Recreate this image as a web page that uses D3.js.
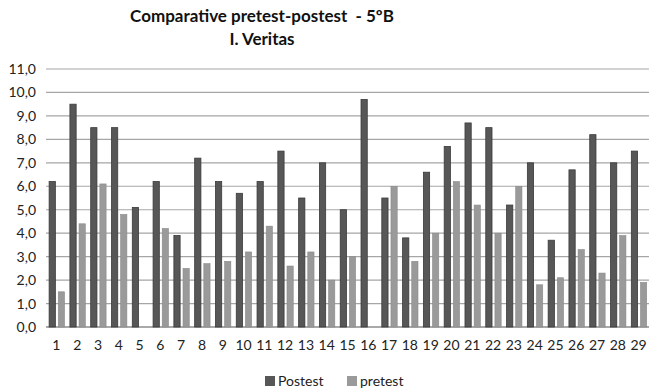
<!DOCTYPE html>
<html><head><meta charset="utf-8">
<script src="https://cdn.jsdelivr.net/npm/d3@7"></script>
<style>body{margin:0;background:#fff;} text{font-family:Lato, "Open Sans", sans-serif;}</style>
</head><body><svg id="c" width="658" height="389"></svg>
<script>
const categories = d3.range(1,30).map(String);
const postest = [6.2,9.5,8.5,8.5,5.1,6.2,3.9,7.2,6.2,5.7,6.2,7.5,5.5,7.0,5.0,9.7,5.5,3.8,6.6,7.7,8.7,8.5,5.2,7.0,3.7,6.7,8.2,7.0,7.5];
const pretest = [1.5,4.4,6.1,4.8,0,4.2,2.5,2.7,2.8,3.2,4.3,2.6,3.2,2.0,3.0,0,6.0,2.8,4.0,6.2,5.2,4.0,6.0,1.8,2.1,3.3,2.3,3.9,1.9];
const yTicks = d3.range(0,12);
const seriesNames = ["Postest","pretest"];

const svg = d3.select("#c");
const L=46, R=649, T=69, B=327;
const x = d3.scaleBand().domain(categories).range([L,R]).paddingInner(0).paddingOuter(0);
const y = d3.scaleLinear().domain([0,11]).range([B,T]);
const fmt = v => v.toFixed(1).replace(".",",");

svg.append("g").selectAll("line").data(yTicks).join("line")
  .attr("x1",L).attr("x2",R).attr("y1",d=>y(d)).attr("y2",d=>y(d))
  .attr("stroke",d=>d===0?"#8c8c8c":"#a6a6a6").attr("stroke-width",d=>d===0?1.5:1.2);

const ya = svg.append("g").attr("transform",`translate(${L-10},0)`)
  .call(d3.axisLeft(y).tickValues(yTicks).tickFormat(fmt).tickSize(0).tickPadding(0));
ya.select(".domain").remove();
ya.selectAll("text").attr("font-size",14).attr("fill","#222").attr("font-family","Lato, sans-serif");

const xa = svg.append("g").attr("transform",`translate(0,${B+10})`)
  .call(d3.axisBottom(x).tickSize(0).tickPadding(0));
xa.select(".domain").remove();
xa.selectAll("text").attr("font-size",14).attr("fill","#222").attr("dy","0.9em").attr("font-family","Lato, sans-serif");

const bw = x.bandwidth();
svg.append("g").selectAll("rect").data(postest).join("rect")
  .attr("x",(d,i)=>x(categories[i])+bw*0.15).attr("width",bw*0.3)
  .attr("y",d=>y(d)).attr("height",d=>B-y(d))
  .attr("fill","#575757").attr("stroke","#3a3a3a").attr("stroke-width",0.8);
svg.append("g").selectAll("rect").data(pretest).join("rect")
  .attr("x",(d,i)=>x(categories[i])+bw*0.59).attr("width",bw*0.3)
  .attr("y",d=>y(d)).attr("height",d=>B-y(d))
  .attr("fill","#9a9a9a").attr("stroke","#8a8a8a").attr("stroke-width",0.6)
  .attr("display",d=>d>0?null:"none");

svg.append("text").attr("x",262).attr("y",22).attr("text-anchor","middle")
  .attr("font-size",17).attr("font-weight","bold").attr("fill","#111")
  .style("white-space","pre")
  .text("Comparative pretest-postest  - 5ºB");
svg.append("text").attr("x",262).attr("y",45).attr("text-anchor","middle")
  .attr("font-size",17).attr("font-weight","bold").attr("fill","#111")
  .text("I. Veritas");

const lg = svg.append("g");
const lx=[265,347], cols=["#575757","#9a9a9a"];
seriesNames.forEach((n,i)=>{
  lg.append("rect").attr("x",lx[i]).attr("y",376).attr("width",10).attr("height",10).attr("fill",cols[i]);
  lg.append("text").attr("x",lx[i]+13).attr("y",386).attr("font-size",14).attr("fill","#222").text(n);
});
</script></body></html>
